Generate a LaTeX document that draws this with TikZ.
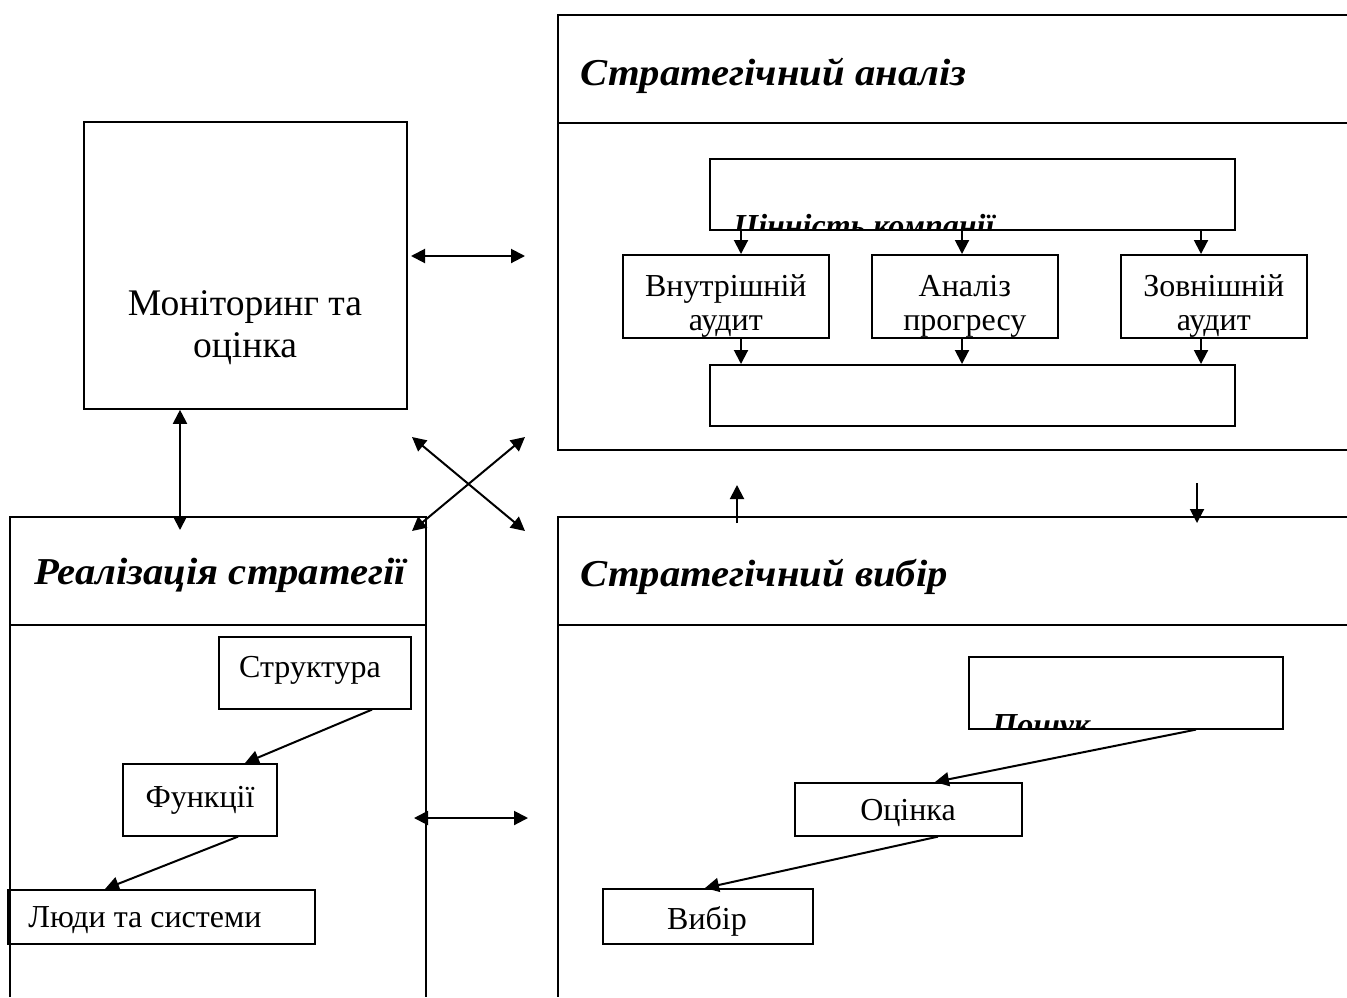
\documentclass[tikz,border=0pt]{standalone}
\usepackage{fontspec}
\setmainfont{Liberation Serif}
\newfontfamily\headfont[FakeStretch=1.07]{Liberation Serif}
\usetikzlibrary{arrows.meta,calc}
\tikzset{
  panel/.style={line width=1pt},
  box/.style={draw, line width=0.8pt, anchor=north west, inner sep=0pt},
  sz/.style 2 args={minimum width=#1*0.5pt, minimum height=#2*0.5pt},
  tip/.tip={Triangle[length=7pt,width=7pt]},
  arr/.style={line width=1pt, -tip},
  darr/.style={line width=1pt, tip-tip},
  body/.style={font=\fontsize{16}{17}\selectfont, align=center, inner sep=0pt, anchor=center},
  head/.style={font=\headfont\bfseries\itshape\fontsize{19}{21}\selectfont, anchor=base west, inner sep=0pt},
  hidden/.style={font=\bfseries\itshape\fontsize{16}{20}\selectfont, anchor=base west, inner sep=0pt},
}
\begin{document}
\begin{tikzpicture}[x=0.5pt, y=-0.5pt]
\useasboundingbox (0,0) rectangle (1347,997);

% ---- panels (open towards the page edges) ----
% strategic analysis
\draw[panel] (1347,15) -- (558,15) -- (558,450) -- (1347,450);
\draw[panel] (558,123) -- (1347,123);
% implementation
\draw[panel] (10,997) -- (10,517) -- (426,517) -- (426,997);
\draw[panel] (10,625) -- (426,625);
% strategic choice
\draw[panel] (1347,517) -- (558,517) -- (558,997);
\draw[panel] (558,625) -- (1347,625);

% ---- headings ----
\node[head] (hAn) at (580,85) {Стратегічний аналіз};
\node[head] (hIm) at (34,584) {Реалізація стратегії};
\node[head] (hCh) at (580,586) {Стратегічний вибір};

% ---- monitoring ----
\node[box, line width=0.9pt, sz={323}{287}] (mon) at (83,121) {};
\node[body, font=\fontsize{18.8}{21}\selectfont] (monT) at (245,328) {Моніторинг та\\оцінка};

% ---- strategic analysis contents ----
\node[box, sz={525}{71}] (val) at (709,158) {};
\node[box, sz={206}{83}] (inA) at (622,254) {};
\node[box, sz={186}{83}] (prog) at (871,254) {};
\node[box, sz={186}{83}] (exA) at (1120,254) {};
\node[box, sz={525}{61}] (res) at (709,364) {};
% box texts are cut off by their frames
\begin{scope}
  \clip (val.north west) rectangle (val.south east);
  \node[hidden] (valT) at ($(val.north west)+(24,78)$) {Цінність компанії};
\end{scope}
\begin{scope}
  \clip (inA.north west) rectangle (inA.south east);
  \node[body] (inAT) at ($(inA.north)+(0,52)$) {Внутрішній\\аудит};
\end{scope}
\begin{scope}
  \clip (prog.north west) rectangle (prog.south east);
  \node[body] (progT) at ($(prog.north)+(0,52)$) {Аналіз\\прогресу};
\end{scope}
\begin{scope}
  \clip (exA.north west) rectangle (exA.south east);
  \node[body] (exAT) at ($(exA.north)+(0,52)$) {Зовнішній\\аудит};
\end{scope}

\draw[arr] (val.south -| 741,0) -- (inA.north -| 741,0);
\draw[arr] (val.south -| 962,0) -- (prog.north -| 962,0);
\draw[arr] (val.south -| 1201,0) -- (exA.north -| 1201,0);
\draw[arr] (inA.south -| 741,0) -- (res.north -| 741,0);
\draw[arr] (prog.south -| 962,0) -- (res.north -| 962,0);
\draw[arr] (exA.south -| 1201,0) -- (res.north -| 1201,0);

% ---- implementation contents ----
\node[box, sz={192}{72}] (str) at (218,636) {};
\node[body] (strT) at (310,670) {Структура};
\node[box, sz={154}{72}] (fun) at (122,763) {};
\node[body] (funT) at (200,800) {Функції};
\node[box, sz={307}{54}] (ppl) at (7,889) {};
\node[body, anchor=west] (pplT) at (28,920) {Люди та системи};

\draw[arr] (str.south -| 372,0) -- (fun.north -| 245,0);
\draw[arr] (fun.south -| 238,0) -- (ppl.north -| 105,0);

% ---- strategic choice contents ----
\node[box, sz={314}{72}] (srch) at (968,656) {};
\begin{scope}
  \clip (srch.north west) rectangle (srch.south east);
  \node[hidden] (srchT) at ($(srch.north west)+(24,79)$) {Пошук};
\end{scope}
\node[box, sz={227}{53}] (est) at (794,782) {};
\node[body] (estT) at (908,813) {Оцінка};
\node[box, sz={210}{55}] (sel) at (602,888) {};
\node[body] (selT) at (707,921) {Вибір};

\draw[arr] (srch.south -| 1196,0) -- (est.north -| 935,0);
\draw[arr] (est.south -| 938,0) -- (sel.north -| 705,0);

% ---- links between the stages ----
\coordinate (mR) at (411,256);  \coordinate (aL) at (525,256);
\draw[darr] (mR) -- (aL);
\coordinate (imTop) at (180,530);
\draw[darr] (mon.south -| imTop) -- (imTop);
\coordinate (xUL) at (412,437); \coordinate (xUR) at (525,437);
\coordinate (xLL) at (412,531); \coordinate (xLR) at (525,531);
\draw[darr] (xUL) -- (xLR);
\draw[darr] (xUR) -- (xLL);
\coordinate (iR) at (414,818);  \coordinate (cL) at (528,818);
\draw[darr] (iR) -- (cL);
\coordinate (upS) at (737,523);  \coordinate (upE) at (737,485);
\draw[arr] (upS) -- (upE);
\coordinate (dnS) at (1197,483); \coordinate (dnE) at (1197,523);
\draw[arr] (dnS) -- (dnE);
\end{tikzpicture}
\end{document}
